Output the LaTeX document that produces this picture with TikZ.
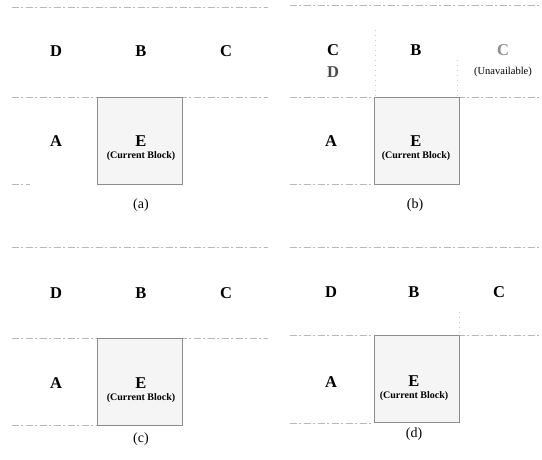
\documentclass[tikz,border=0pt]{standalone}
\usepackage{fontspec}
\setmainfont{Liberation Serif}
\usetikzlibrary{positioning}

\begin{document}
\begin{tikzpicture}[x=1pt, y=-1pt,
  lbl/.style={font=\fontsize{16.5}{18}\selectfont\bfseries, inner sep=0pt},
  sub/.style={font=\fontsize{10}{11}\selectfont\bfseries, inner sep=0pt},
  captxt/.style={font=\fontsize{14}{16}\selectfont, inner sep=0pt},
  cur/.style={draw=black!45, fill=black!4, line width=0.6pt, minimum width=85pt, minimum height=87pt, inner sep=0pt},
  gridln/.style={draw=black!28, line width=0.6pt, dash pattern=on 7pt off 2pt on 2pt off 3pt}]
\useasboundingbox (0,0) rectangle (542,459);

% (a)
\draw[gridln] (12,7) -- (268,7);
\draw[gridln] (12,97) -- (268,97);
\draw[gridln] (12,184) -- (30,184);
\node[cur] (boxa) at (139.5,140.5) {};
\node[lbl] (Da) at (56,51) {D};
\node[lbl] (Ba) at (141,51) {B};
\node[lbl] (Ca) at (226,51) {C};
\node[lbl] (Aa) at (56,141) {A};
\node[lbl] (Ea) at (141,141) {E};
\node[sub, below=4.5pt of Ea] (cura) {(Current Block)};
\node[captxt] (capa) at (141,205) {(a)};

% (b)
\draw[gridln] (290,5) -- (540,5);
\draw[gridln] (290,97) -- (540,97);
\draw[gridln] (290,184) -- (372,184);
\draw[gridln, draw=black!20, dash pattern=on 1pt off 4pt] (375,30) -- (375,97);
\draw[gridln, draw=black!20, dash pattern=on 1pt off 4pt] (457,60) -- (457,97);
\node[cur] (boxb) at (416.5,140.5) {};
\node[lbl] (Cb) at (333,50) {C};
\node[lbl, text=black!70] (Db) at (333,72) {D};
\node[lbl] (Bb) at (416,50) {B};
\node[lbl, text=black!45] (Cub) at (503,50) {C};
\node[sub, font=\fontsize{10.5}{12}\selectfont] (unav) at (503,72) {(Unavailable)};
\node[lbl] (Ab) at (331,141) {A};
\node[lbl] (Eb) at (416,141) {E};
\node[sub, below=4.5pt of Eb] (curb) {(Current Block)};
\node[captxt] (capb) at (415,205) {(b)};

% (c)
\draw[gridln] (12,247) -- (268,247);
\draw[gridln] (12,338) -- (268,338);
\draw[gridln] (12,425) -- (97,425);
\node[cur] (boxc) at (139.5,381.5) {};
\node[lbl] (Dc) at (56,293) {D};
\node[lbl] (Bc) at (141,293) {B};
\node[lbl] (Cc) at (226,293) {C};
\node[lbl] (Ac) at (56,383) {A};
\node[lbl] (Ec) at (141,383) {E};
\node[sub, below=4.5pt of Ec] (curc) {(Current Block)};
\node[captxt] (capc) at (141,439) {(c)};

% (d)
\draw[gridln] (290,247) -- (540,247);
\draw[gridln] (290,335) -- (540,335);
\draw[gridln] (290,423) -- (374,423);
\draw[gridln, draw=black!20, dash pattern=on 1pt off 4pt] (459,312) -- (459,335);
\node[cur] (boxd) at (416.5,379) {};
\node[lbl] (Dd) at (331,292) {D};
\node[lbl] (Bd) at (414,292) {B};
\node[lbl] (Cd) at (499,292) {C};
\node[lbl] (Ad) at (331,382) {A};
\node[lbl] (Ed) at (414,381) {E};
\node[sub, below=4.5pt of Ed] (curd) {(Current Block)};
\node[captxt] (capd) at (414,434) {(d)};
\end{tikzpicture}
\end{document}
